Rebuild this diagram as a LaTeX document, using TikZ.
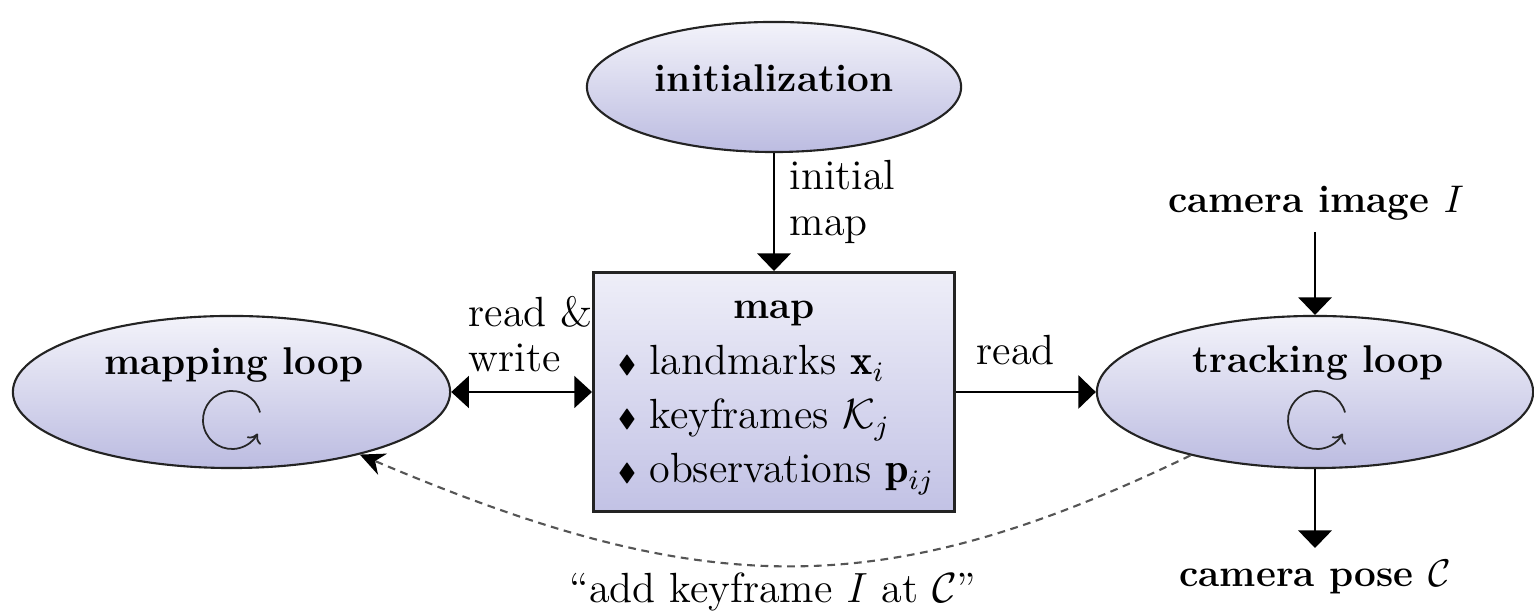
\documentclass[tikz,border=0pt]{standalone}
\usepackage{amsmath,amssymb}
\usepackage{fontspec}
\usetikzlibrary{arrows.meta,shapes.geometric,calc}
\definecolor{ellTop}{RGB}{243,243,250}
\definecolor{ellBot}{RGB}{188,188,225}
\definecolor{boxTop}{RGB}{238,238,248}
\definecolor{boxBot}{RGB}{194,194,229}
\definecolor{edgeC}{RGB}{35,35,35}
\definecolor{dashC}{RGB}{85,85,85}
\newcommand{\mybul}{\makebox[9pt][l]{\raisebox{0.6pt}{\scriptsize$\blacklozenge$}}}
\begin{document}
\begin{tikzpicture}[x=0.01cm,y=0.01cm,
  every node/.style={font=\fontsize{12}{13}\selectfont},
  loopell/.style={ellipse, draw=edgeC, line width=0.6pt, top color=ellTop, bottom color=ellBot, inner sep=0pt},
  mapbox/.style={rectangle, draw=edgeC, line width=0.8pt, top color=boxTop, bottom color=boxBot, minimum width=3.61cm, minimum height=2.39cm, inner sep=0pt},
  ttl/.style={font=\fontsize{11}{12.6}\selectfont\bfseries, inner sep=0pt},
  txt/.style={inner sep=0pt},
  lbl/.style={align=left, inner sep=0pt},
  conn/.style={line width=0.65pt, draw=black, -{Triangle[length=5pt,width=9.5pt]}},
  biconn/.style={line width=0.65pt, draw=black, {Triangle[length=5pt,width=9pt]}-{Triangle[length=5pt,width=9pt]}},
  dashconn/.style={line width=0.6pt, draw=dashC, dash pattern=on 2.2pt off 1.6pt, -{Stealth[length=7pt,width=6.5pt,color=black]}},
  cyc/.style={line width=0.5pt, draw=black!85, -{To[length=2.5pt,width=4.5pt]}}
]
\useasboundingbox (0,0) rectangle (1534,616);

% nodes
\node[loopell, minimum width=3.74cm, minimum height=1.30cm] (init) at (774,529) {};
\node[ttl, anchor=base] (initlbl) at (774,524) {initialization};

\node[mapbox] (map) at (774,224) {};
\node[ttl, anchor=base] (maptitle) at (774,297) {map};
\node[txt, anchor=base west] (lm) at (617,241) {\mybul landmarks $\mathbf{x}_i$};
\node[txt, anchor=base west] (kf) at (617,187) {\mybul keyframes $\mathcal{K}_j$};
\node[txt, anchor=base west] (ob) at (617,133) {\mybul observations $\mathbf{p}_{ij}$};

\node[loopell, minimum width=4.37cm, minimum height=1.52cm] (mapping) at (231.5,224) {};
\node[ttl, anchor=base] (mappinglbl) at (234,241) {mapping loop};

\node[loopell, minimum width=4.36cm, minimum height=1.52cm] (track) at (1315,224) {};
\node[ttl, anchor=base] (tracklbl) at (1318,243) {tracking loop};

\node[ttl, anchor=base] (camimg) at (1316,403) {camera image $I$};
\node[ttl, anchor=base] (campose) at (1315,29) {camera pose $\mathcal{C}$};
\coordinate (camimgbot) at (1315,384);
\coordinate (caposetop) at (1315,68);

% labels
\node[lbl, anchor=west] (initmap) at (789,414) {initial\\map};
\node[lbl, anchor=west] (rw) at (468,282) {read \&\\write};
\node[txt, anchor=base west] (rd) at (976,251) {read};
\node[txt, anchor=base] (addkf) at (773,13) {``add keyframe $I$ at $\mathcal{C}$''};

% connectors
\draw[conn] (init) -- (map);
\draw[biconn] (mapping.east) -- (map.west);
\draw[conn] (map.east) -- (track.west);
\draw[conn] (camimgbot) -- (track.north);
\draw[conn] (track.south) -- (caposetop);
\draw[dashconn] (track.207) .. controls (882,12) and (705,15) .. (mapping.334);

% loop symbols
\coordinate (mc) at (232,196);
\coordinate (tc) at (1317,196);
\draw[cyc] (mc) ++(15:0.29cm) arc[start angle=15, end angle=332, radius=0.29cm];
\draw[cyc] (tc) ++(15:0.29cm) arc[start angle=15, end angle=332, radius=0.29cm];
\end{tikzpicture}
\end{document}
